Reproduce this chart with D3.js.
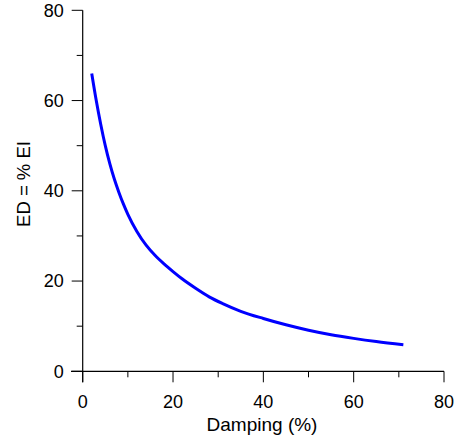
<!DOCTYPE html>
<html>
<head>
<meta charset="utf-8">
<script src="https://cdn.jsdelivr.net/npm/d3@7"></script>
<style>
  html, body { margin: 0; padding: 0; background: #fff; }
  svg { display: block; font-family: "Liberation Sans", Arial, sans-serif; }
</style>
</head>
<body>
<svg id="chart" width="457" height="438"></svg>
<script>
// Data
const damping = [2, 3, 4, 5, 6, 7, 8, 9, 10, 12, 14, 16, 18, 20, 22, 25, 28, 31, 35, 40, 45, 50, 55, 60, 65, 71];
const edPercent = [66.0, 60.0, 54.7, 50.0, 46.0, 42.6, 39.7, 37.1, 34.8, 31.0, 28.0, 25.7, 23.8, 22.1, 20.5, 18.4, 16.5, 15.0, 13.3, 11.7, 10.3, 9.1, 8.1, 7.3, 6.6, 5.9];
const xMajorTicks = [0, 20, 40, 60, 80];
const xMinorTicks = [10, 30, 50, 70];
const yMajorTicks = [0, 20, 40, 60, 80];
const yMinorTicks = [10, 30, 50, 70];
const xTitle = "Damping (%)";
const yTitle = "ED = % EI";

const svg = d3.select("#chart");
const x = d3.scaleLinear().domain([0, 80]).range([82.7, 444]);
const y = d3.scaleLinear().domain([0, 80]).range([371.3, 10.3]);

const fontSize = 18;

// X axis
const gx = svg.append("g").attr("transform", `translate(0,${y(0)})`);
gx.append("line").attr("x1", 71).attr("x2", x(80)).attr("y1", 0).attr("y2", 0)
  .attr("stroke", "#000").attr("stroke-width", 1.2);
gx.selectAll(".maj").data(xMajorTicks).enter().append("line")
  .attr("x1", d => x(d)).attr("x2", d => x(d)).attr("y1", 0).attr("y2", 11)
  .attr("stroke", "#000").attr("stroke-width", 1);
gx.selectAll(".min").data(xMinorTicks).enter().append("line")
  .attr("x1", d => x(d)).attr("x2", d => x(d)).attr("y1", 0).attr("y2", 6)
  .attr("stroke", "#000").attr("stroke-width", 1);
gx.selectAll(".lab").data(xMajorTicks).enter().append("text")
  .attr("x", d => x(d)).attr("y", 37).attr("text-anchor", "middle")
  .attr("font-size", fontSize).attr("fill", "#000").text(d => d);

// Y axis
const gy = svg.append("g").attr("transform", `translate(${x(0)},0)`);
gy.append("line").attr("x1", 0).attr("x2", 0).attr("y1", y(80)).attr("y2", y(0) + 11)
  .attr("stroke", "#000").attr("stroke-width", 1.2);
gy.selectAll(".maj").data(yMajorTicks).enter().append("line")
  .attr("x1", -11).attr("x2", 0).attr("y1", d => y(d)).attr("y2", d => y(d))
  .attr("stroke", "#000").attr("stroke-width", 1);
gy.selectAll(".min").data(yMinorTicks).enter().append("line")
  .attr("x1", -6).attr("x2", 0).attr("y1", d => y(d)).attr("y2", d => y(d))
  .attr("stroke", "#000").attr("stroke-width", 1);
gy.selectAll(".lab").data(yMajorTicks).enter().append("text")
  .attr("x", -19).attr("y", d => y(d)).attr("dy", "0.35em").attr("text-anchor", "end")
  .attr("font-size", fontSize).attr("fill", "#000").text(d => d);

// Titles
svg.append("text").attr("x", 262).attr("y", 430.5).attr("text-anchor", "middle")
  .attr("font-size", 19).attr("fill", "#000").text(xTitle);
svg.append("text").attr("transform", "translate(30,184) rotate(-90)")
  .attr("text-anchor", "middle").attr("font-size", 18.5).attr("fill", "#000").text(yTitle);

// Curve
const pts = damping.map((d, i) => [d, edPercent[i]]);
svg.append("path").datum(pts)
  .attr("d", d3.line().x(d => x(d[0])).y(d => y(d[1])).curve(d3.curveMonotoneX))
  .attr("fill", "none").attr("stroke", "#0000ff").attr("stroke-width", 3);
</script>
</body>
</html>
